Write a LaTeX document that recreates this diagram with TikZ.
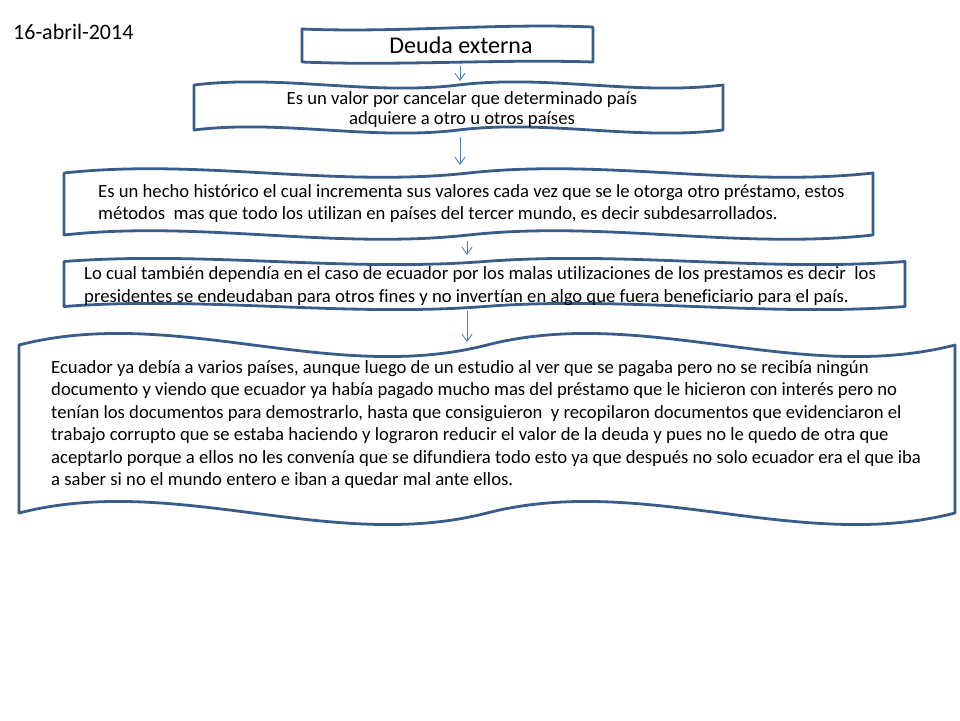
\documentclass[tikz,border=0pt]{standalone}
\usepackage{fontspec}
\setmainfont{Carlito}[Ligatures={TeX,NoCommon}]
\usetikzlibrary{arrows.meta}
\definecolor{waveline}{HTML}{385D8A}
\definecolor{arrowline}{HTML}{4A7EBB}
\newcommand\DWshape[4]{%
  \pgfmathsetmacro\dwL{#1}\pgfmathsetmacro\dwR{#2}%
  \pgfmathsetmacro\dwT{#3}\pgfmathsetmacro\dwB{#4}%
  \pgfmathsetmacro\dwW{\dwR-\dwL}%
  \pgfmathsetmacro\dwA{0.2083*(\dwB-\dwT)/0.875}%
  \pgfmathsetmacro\dwXa{\dwL+\dwW/6}%
  \pgfmathsetmacro\dwXb{\dwL+\dwW/3}%
  \pgfmathsetmacro\dwXc{\dwL+\dwW/2}%
  \pgfmathsetmacro\dwXd{\dwL+2*\dwW/3}%
  \pgfmathsetmacro\dwXe{\dwL+5*\dwW/6}%
  \draw[wavebox] (\dwL,\dwT)
    .. controls (\dwXa,\dwT-\dwA) and (\dwXb,\dwT+\dwA) .. (\dwXc,\dwT)
    .. controls (\dwXd,\dwT-\dwA) and (\dwXe,\dwT+\dwA) .. (\dwR,\dwT)
    -- (\dwR,\dwB)
    .. controls (\dwXe,\dwB+\dwA) and (\dwXd,\dwB-\dwA) .. (\dwXc,\dwB)
    .. controls (\dwXb,\dwB+\dwA) and (\dwXa,\dwB-\dwA) .. (\dwL,\dwB)
    -- cycle;}
\begin{document}
\begin{tikzpicture}[x=1pt,y=-1pt,
  wavebox/.style={draw=waveline,line width=2.8pt,fill=white,line join=round},
  conn/.style={draw=arrowline,line width=0.9pt,-{Straight Barb[length=7pt,width=10pt]}},
  body/.style={inner sep=0pt,font=\fontsize{18.67}{22.4}\selectfont,align=left,anchor=west},
  bodyc/.style={inner sep=0pt,font=\fontsize{18.67}{20}\selectfont,align=center}]
\fill[white] (0,0) rectangle (960,720);
\useasboundingbox (0,0) rectangle (960,720);

% date
\node[inner sep=0pt,anchor=west,font=\fontsize{22}{26}\selectfont] (date) at (13,32) {16-abril-2014};

% title wave
\draw[wavebox] (302,29) .. controls (399,33) and (496,23) .. (593,27)
  -- (593,62) .. controls (496,59) and (399,66) .. (302,62) -- cycle;
\node[inner sep=0pt,font=\fontsize{24}{28}\selectfont] (title) at (461,45) {Deuda externa};

% shapes
\DWshape{194}{723}{85}{130}
\node[bodyc] (t2) at (462,109.3) {Es un valor por cancelar que determinado país\\adquiere a otro u otros países};

\DWshape{64}{873}{173}{235}
\node[body] (t3) at (98,203.5) {Es un hecho histórico el cual incrementa sus valores cada vez que se le otorga otro préstamo, estos\\métodos\ \ mas que todo los utilizan en países del tercer mundo, es decir subdesarrollados.};

\DWshape{64}{905}{261.5}{306.5}
\node[body] (t4) at (84,286) {Lo cual también dependía en el caso de ecuador por los malas utilizaciones de los prestamos es decir\ \ los\\presidentes se endeudaban para otros fines y no invertían en algo que fuera beneficiario para el país.};

\DWshape{19}{955}{345}{513}
\node[body] (t5) at (51,424.5) {Ecuador ya debía a varios países, aunque luego de un estudio al ver que se pagaba pero no se recibía ningún\\documento y viendo que ecuador ya había pagado mucho mas del préstamo que le hicieron con interés pero no\\tenían los documentos para demostrarlo, hasta que consiguieron\ \ y recopilaron documentos que evidenciaron el\\trabajo corrupto que se estaba haciendo y lograron reducir el valor de la deuda y pues no le quedo de otra que\\aceptarlo porque a ellos no les convenía que se difundiera todo esto ya que después no solo ecuador era el que iba\\a saber si no el mundo entero e iban a quedar mal ante ellos.};

% connectors
\coordinate (c1a) at (460,66);  \coordinate (c1b) at (460,81);
\coordinate (c2a) at (460,137); \coordinate (c2b) at (460,165);
\coordinate (c3a) at (467,241); \coordinate (c3b) at (467,255);
\coordinate (c4a) at (467,311); \coordinate (c4b) at (467,342);
\draw[conn] (c1a) -- (c1b);
\draw[conn] (c2a) -- (c2b);
\draw[conn] (c3a) -- (c3b);
\draw[conn] (c4a) -- (c4b);
\end{tikzpicture}
\end{document}
